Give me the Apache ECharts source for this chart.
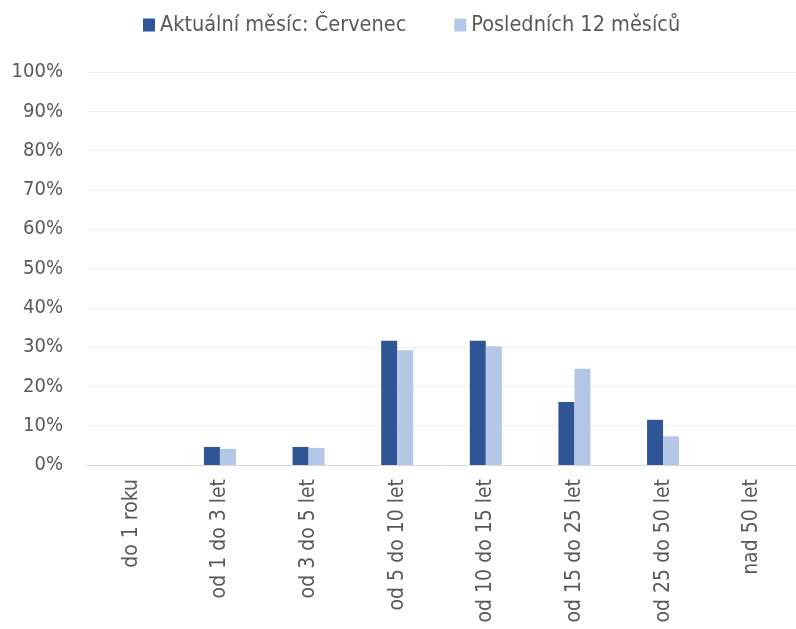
<!DOCTYPE html>
<html><head><meta charset="utf-8">
<script src="https://cdn.jsdelivr.net/npm/echarts@6/dist/echarts.min.js"></script>
<style>html,body{margin:0;padding:0;background:#fff}#c{width:796px;height:629px}</style>
</head><body><div id="c"></div>
<script>
const categories = ['do 1 roku','od 1 do 3 let','od 3 do 5 let','od 5 do 10 let','od 10 do 15 let','od 15 do 25 let','od 25 do 50 let','nad 50 let'];
const seriesNames = ['Aktuální měsíc: Červenec','Posledních 12 měsíců'];
const currentMonth = [0, 4.6, 4.6, 31.6, 31.6, 16.0, 11.5, 0];
const last12Months = [0, 4.1, 4.35, 29.2, 30.2, 24.5, 7.3, 0];
const yTicks = [0,10,20,30,40,50,60,70,80,90,100];

const FONT = '"DejaVu Sans Condensed", sans-serif';
const chart = echarts.init(document.getElementById('c'));
chart.setOption({
  animation: false,
  textStyle: {fontFamily: FONT},
  legend: {
    top: 9, left: 138,
    icon: 'rect',
    itemWidth: 12, itemHeight: 13, itemGap: 48,
    textStyle: {fontSize: 21.5, color: '#595959', fontFamily: FONT},
    data: seriesNames
  },
  grid: {left: 87, right: 0, top: 72, bottom: 164, containLabel: false},
  xAxis: {
    type: 'category', data: categories,
    axisTick: {show: false},
    axisLine: {lineStyle: {color: '#D9D9D9', width: 1}},
    axisLabel: {rotate: 90, margin: 14, fontSize: 21, color: '#595959', fontFamily: FONT, interval: 0}
  },
  yAxis: {
    type: 'value', min: yTicks[0], max: yTicks[yTicks.length-1], interval: 10,
    axisLine: {show: false}, axisTick: {show: false},
    splitLine: {lineStyle: {color: '#F0F0F0', width: 1}},
    axisLabel: {margin: 24, fontSize: 20, color: '#595959', fontFamily: FONT, formatter: v => v + '%'}
  },
  series: [
    {name: seriesNames[0], type: 'bar', data: currentMonth, barWidth: 16, barGap: '0%', itemStyle: {color: '#2F5597'}},
    {name: seriesNames[1], type: 'bar', data: last12Months, barWidth: 16, itemStyle: {color: '#B4C7E7'}}
  ]
});
</script></body></html>
